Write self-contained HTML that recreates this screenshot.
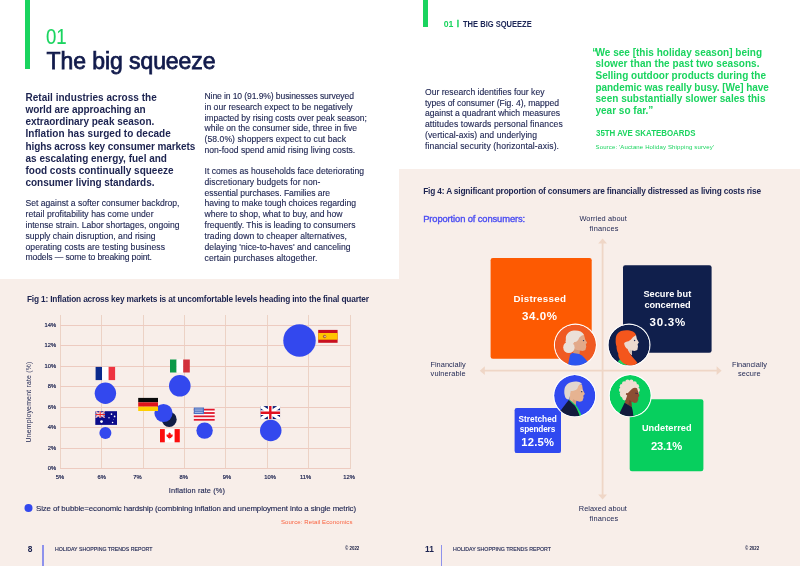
<!DOCTYPE html><html lang="en"><head><meta charset="utf-8"><title>Holiday Shopping Trends Report</title><style>
html,body{margin:0;padding:0}
body{width:800px;height:566px;position:relative;overflow:hidden;background:#f8eee9;font-family:"Liberation Sans",sans-serif}
.w{position:absolute;background:#fff}
.t{position:absolute;white-space:nowrap;line-height:12px;height:12px}
.g{position:absolute}
svg{position:absolute;left:0;top:0}
</style></head><body>
<div class="w" style="left:0;top:0;width:399px;height:278.5px"></div>
<div class="w" style="left:399px;top:0;width:401px;height:168.5px"></div>
<div class="g" style="left:25.2px;top:0;width:4.6px;height:68.6px;background:#1ad45f"></div>
<div class="g" style="left:423.2px;top:0;width:4.8px;height:27px;background:#1ad45f"></div>
<svg width="800" height="566" viewBox="0 0 800 566"><g stroke="#ecd2c5" stroke-width="1" fill="none"><line x1="60.5" y1="315" x2="60.5" y2="469"/><line x1="101.5" y1="315" x2="101.5" y2="469"/><line x1="143.5" y1="315" x2="143.5" y2="469"/><line x1="184.5" y1="315" x2="184.5" y2="469"/><line x1="225.5" y1="315" x2="225.5" y2="469"/><line x1="267.5" y1="315" x2="267.5" y2="469"/><line x1="308.5" y1="315" x2="308.5" y2="469"/><line x1="350.5" y1="315" x2="350.5" y2="469"/></g><g stroke="#edcbc0" stroke-width="1" fill="none"><line x1="60" y1="325.5" x2="350.5" y2="325.5"/><line x1="60" y1="345.5" x2="350.5" y2="345.5"/><line x1="60" y1="366.5" x2="350.5" y2="366.5"/><line x1="60" y1="386.5" x2="350.5" y2="386.5"/><line x1="60" y1="407.5" x2="350.5" y2="407.5"/><line x1="60" y1="427.5" x2="350.5" y2="427.5"/><line x1="60" y1="448.5" x2="350.5" y2="448.5"/><line x1="60" y1="468.5" x2="350.5" y2="468.5"/></g><circle cx="169.2" cy="419.4" r="7.5" fill="#111c44"/><circle cx="105.4" cy="393.2" r="10.7" fill="#3348ee"/><circle cx="179.8" cy="385.8" r="10.8" fill="#3348ee"/><circle cx="163.5" cy="413" r="9.1" fill="#3348ee"/><circle cx="105.4" cy="433" r="6" fill="#3348ee"/><circle cx="204.6" cy="430.6" r="8.2" fill="#3348ee"/><circle cx="270.75" cy="430.5" r="10.75" fill="#3348ee"/><circle cx="299.5" cy="340.5" r="16.25" fill="#3348ee"/><circle cx="28.5" cy="508" r="4" fill="#3348ee"/><g transform="translate(95.6,366.9)"><rect width="6.5" height="13.2" fill="#0b2a8c"/><rect x="6.5" width="6.5" height="13.2" fill="#fff"/><rect x="13" width="6.5" height="13.2" fill="#ee3340"/></g><g transform="translate(170,359.5)"><rect width="6.6" height="13" fill="#0c9a4a"/><rect x="6.6" width="6.6" height="13" fill="#fff"/><rect x="13.2" width="6.6" height="13" fill="#d2323c"/></g><g transform="translate(138.2,397.9)"><rect width="19.8" height="4.4" fill="#0a0a0a"/><rect y="4.4" width="19.8" height="4.4" fill="#e0141c"/><rect y="8.8" width="19.8" height="4.3" fill="#ffcf00"/></g><g transform="translate(95.3,411.2)"><rect width="21.7" height="13.7" fill="#0c0c8a"/><clipPath id="au"><rect width="9.700" height="6.600"/></clipPath><g clip-path="url(#au)"><path d="M0 0L9.700 6.600M9.700 0L0 6.600" stroke="#fff" stroke-width="1.500"/><path d="M0 0L9.700 6.600M9.700 0L0 6.600" stroke="#ee3a3a" stroke-width="0.600"/><path d="M4.850 0V6.600M0 3.300H9.700" stroke="#fff" stroke-width="2.200"/><path d="M4.850 0V6.600M0 3.300H9.700" stroke="#ee2a2a" stroke-width="1.200"/></g><g fill="#fff"><circle cx="6.200" cy="10.400" r="1.350"/><circle cx="16.200" cy="2.900" r="0.850"/><circle cx="19.300" cy="5.200" r="0.850"/><circle cx="17.300" cy="11.300" r="0.800"/><circle cx="13.700" cy="6.600" r="0.800" fill="#c9c9ee"/><circle cx="18.100" cy="8.300" r="0.400" fill="#9a9adf"/></g></g><g transform="translate(160,429.1)"><rect width="19.8" height="13.2" fill="#fff"/><rect width="4.800" height="13.2" fill="#fb0d0d"/><rect x="14.600" width="5.200" height="13.2" fill="#fb0d0d"/><path transform="translate(9.6,6.2) scale(0.72) translate(-9.9,-6.5)" d="M9.9 2.2l1 1.9 1-.5-.5 2.6 1.3-1.2.3.8 1.5-.3-.6 1.7.7.4-2.6 2.1.3 1-2.1-.3v1.8h-.6v-1.8l-2.1.3.3-1-2.6-2.1.7-.4-.6-1.7 1.5.3.3-.8 1.300 1.200-.5-2.600 1 .5z" fill="#fb0d0d"/></g><g transform="translate(193.8,407.5)"><rect width="20.9" height="13.5" fill="#fff"/><rect y="1.2" width="20.9" height="1.800" fill="#e0182c"/><rect y="4.6" width="20.9" height="1.800" fill="#e0182c"/><rect y="7.95" width="20.9" height="1.800" fill="#e0182c"/><rect y="11.4" width="20.9" height="1.800" fill="#e0182c"/><rect width="10.200" height="6.600" fill="#4a6fc0"/><g fill="#c4d0ee"><rect x="1" y="1.200" width="8" height="0.700"/><rect x="1" y="3" width="8" height="0.700"/><rect x="1" y="4.800" width="8" height="0.700"/></g></g><g transform="translate(260.4,406.1)"><clipPath id="uk"><rect width="19.8" height="13.2"/></clipPath><g clip-path="url(#uk)"><rect width="19.8" height="13.2" fill="#0b1c74"/><path d="M0 0L19.8 13.2M19.8 0L0 13.2" stroke="#fff" stroke-width="3.4"/><path d="M9.9 0V13.2M0 6.600H19.8" stroke="#fff" stroke-width="4.800"/><path d="M9.9 0V13.2M0 6.600H19.8" stroke="#e0101f" stroke-width="2.400"/></g></g><g transform="translate(318.2,329.9)"><rect width="19.4" height="12.9" fill="#c90f1e"/><rect y="3.100" width="19.4" height="6.700" fill="#ffc400"/><circle cx="6.400" cy="6.600" r="1.700" fill="#b0622f"/><circle cx="6.800" cy="6.600" r="0.700" fill="#f1e6e6"/></g><g stroke="#efd6c6" stroke-width="1.8" fill="none"><line x1="602.6" y1="241" x2="602.6" y2="497"/><line x1="482.5" y1="370.7" x2="719" y2="370.7"/></g><g fill="#efd6c6"><path d="M602.6 238.4l4.400 5h-8.800z"/><path d="M602.6 499.5l4.400-5h-8.800z"/><path d="M479.8 370.7l5-4.400v8.800z"/><path d="M721.6 370.7l-5-4.400v8.800z"/></g><rect x="490.6" y="258" width="101.1" height="100.8" rx="2.2" fill="#fd5a02"/><rect x="623" y="265.2" width="88.6" height="87.6" rx="2.2" fill="#101f4c"/><rect x="514.6" y="408.1" width="46.4" height="45" rx="2.2" fill="#3049f0"/><rect x="629.7" y="399.3" width="73.7" height="72" rx="2.2" fill="#07cf5e"/><g transform="translate(575.4,345)"><circle r="21.5" fill="#fff"/><clipPath id="av1"><circle r="20.6"/></clipPath><g clip-path="url(#av1)"><circle r="20.6" fill="#f05a22"/><path d="M8.6-10.3L9.5-6.8 10-5 11.7-2.4 10.4-.6 10.9 1.6 10 5.100 7.300 6 4.200 5.600 3.800 9.100-1.900 8.600-1.500 1.600-1.900-2.800 2-8z" fill="#e2a98a"/><path d="M4.200 5.600L3.800 9.100-1.900 8.600-1.700 4 1 4.800z" fill="#d2977a"/><path d="M-1.900-2.800C-6-2-9.800-3-9.600-6.500-9.800-10.500-6-14.300-1.500-14.400 3-14.800 7.200-13.300 8.600-10.300 6.500-9.500 4.500-8.500 3.800-7.200 3.200-5.500 2-3.900.8-3.200z" fill="#ebe0d8"/><circle cx="-6.500" cy="2.400" r="5.700" fill="#ebe0d8"/><ellipse cx="-5.500" cy="-3.800" rx="4.300" ry="4.500" fill="#ebe0d8"/><circle cx="8.100" cy="-4.400" r="0.700" fill="#27305a"/><path d="M-7.600 21L-5.500 10.400C-4.800 8.600-3.600 7.900-2.400 7.900L3.800 9.100C7 10.500 9.500 13.500 11.700 16.200L13 21z" fill="#2b55f0"/></g></g><g transform="translate(629,345)"><circle r="21.5" fill="#fff"/><clipPath id="av2"><circle r="20.6"/></clipPath><g clip-path="url(#av2)"><circle r="20.6" fill="#101f4c"/><path d="M-11.100 16.500L-8.900 13.900-2.300 20-5.800 21.500z" fill="#1ed760"/><path d="M7-10L7.900-6 9.900-2.500 8.600-.7 9 1.500 8.300 5 5.600 5.900 3 5.500 3 10.300-3 6-6.500 0-5-5 2-9z" fill="#ecdacf"/><path d="M3 5.500L3 10.300.5 7.500.8 4.500z" fill="#cfc0b8"/><path d="M-13.300-4.700C-13.500-9-11.600-12.500-8-14-4.100-15.300.5-15 3.900-13.500 5.500-12.600 6.500-11.500 7-10 5.800-9 4.800-8.300 3.900-7.800 2.500-6 1-4.500-.5-3.800-2.500-3.500-4.200-3-4.900-1.600-4.500 1-3 3-1.400 4.100-.5 6.500.8 8.500 2.100 10.300 4 13 7 15.500 8.300 17.800L6 20.500 2.100 21-3.200 19.600C-6 18-8.500 16-9.400 13.900-10.500 12-10.900 10.300-10.700 8.600-12 6-12.600 3.500-12.400 1.500-13.200-.5-13.500-2.700-13.300-4.700z" fill="#f4561c"/><circle cx="5.600" cy="-4.500" r="0.700" fill="#27305a"/></g></g><g transform="translate(574.7,395.7)"><circle r="21.5" fill="#fff"/><clipPath id="av3"><circle r="20.6"/></clipPath><g clip-path="url(#av3)"><circle r="20.6" fill="#3049f0"/><path d="M7.300-11.300L8.200-5.600 10.200-1.800 8.600.1 8.900 1.900 7.700 5.400 5.100 6.100 1.500 5 1.100 9.400-5.500 4.100-4.600-4.300 1-11z" fill="#e6b391"/><path d="M1.500 5L1.100 9.400-2.500 6.500-1.500 3.500z" fill="#d49d7d"/><path d="M-10.400-2.500C-10.600-6-10-8.500-9-9.600-7.500-12-5.800-13-3.800-13.500-1.500-14.300 1-14.400 3.300-14 5-13.600 6.500-12.800 7.300-11.800L5-11C3.800-10.500 3.200-9 2.900-7.500L1.500-6C0-5-2-4.800-3.800-4.700-4.500-3-4.700-1.500-4.600.1L-6 3.700C-8 3.500-9.500 2.500-10-.5z" fill="#e2d7cf"/><path d="M6 -6.300L8.300-5.700 8.100-4.900 6-5.300z" fill="#e2d7cf"/><circle cx="7" cy="-4" r="0.650" fill="#27305a"/><path d="M-5.300 3.800L1.100 9.400C3.500 12.500 5.200 15.500 6.600 19L7 22 3 22-0.200 10.300-6 4.400z" fill="#1ed760"/><path d="M-15 16L-6 4.400.2 10C2.200 13 3.600 16.500 4.600 19.100L5 22-15 22z" fill="#131b3d"/></g></g><g transform="translate(630.2,395.7)"><circle r="21.5" fill="#fff"/><clipPath id="av4"><circle r="20.6"/></clipPath><g clip-path="url(#av4)"><circle r="20.6" fill="#07cf5e"/><g fill="#f0ddd2"><circle cx="-0.800" cy="-5.800" r="8.800"/><circle cx="7.50" cy="-5.80" r="2.200"/><circle cx="6.68" cy="-2.20" r="2.200"/><circle cx="4.37" cy="0.69" r="2.200"/><circle cx="1.05" cy="2.29" r="2.200"/><circle cx="-2.65" cy="2.29" r="2.200"/><circle cx="-5.97" cy="0.69" r="2.200"/><circle cx="-8.28" cy="-2.20" r="2.200"/><circle cx="-9.10" cy="-5.80" r="2.200"/><circle cx="-8.28" cy="-9.40" r="2.200"/><circle cx="-5.97" cy="-12.29" r="2.200"/><circle cx="-2.65" cy="-13.89" r="2.200"/><circle cx="1.05" cy="-13.89" r="2.200"/><circle cx="4.37" cy="-12.29" r="2.200"/><circle cx="6.68" cy="-9.40" r="2.200"/><circle cx="-5.500" cy="2.300" r="2.400"/><circle cx="-7.500" cy="-0.500" r="2.400"/></g><path d="M1.900-6.900C3.500-8.200 5.500-8.300 6.800-7.400L8.100-3.400 9.200.1 7.900 1.900 8.100 3.700 6.800 6.800 4.100 7.200 1.100 5.900 1.500 11.200-5.600 7.200-3-0.200-4.300-1.200C-4.500-2.500-3.500-3.200-2.500-2.500z" fill="#8c4e33"/><path d="M1.100 5.900L1.500 11.200-2 9-.5 4z" fill="#74402a"/><path d="M4.800-3L7.900-2.700 7.800-1.900 5-2.200z" fill="#3a2440"/><path d="M-10.500 17L-5.600 7 1.500 11.200C2.500 14 2.800 16.500 3 19.300L3.500 22-10.500 22z" fill="#131b3d"/></g></g></svg>
<span class="t" style="left:-21.5px;top:395.8px;width:100px;text-align:center;font-size:6.9px;color:#1c2350;letter-spacing:0.2px;transform:rotate(-90deg)">Unemployement rate (%)</span>
<div class="g" style="left:42.4px;top:545px;width:1.4px;height:21px;background:#8e92ec"></div>
<div class="g" style="left:440.7px;top:545px;width:1.4px;height:21px;background:#8e92ec"></div>
<span class="t" style="top:31.00px;font-size:22px;color:#1ad45f;left:46.30px;transform:scaleX(0.8454);transform-origin:0 50%;-webkit-text-stroke:0.12px #1ad45f;">01</span>
<span class="t" style="top:55.00px;font-size:23px;color:#111a4b;left:46.50px;letter-spacing:-0.077px;-webkit-text-stroke:0.75px #111a4b;">The big squeeze</span>
<span class="t" style="top:92.00px;font-size:10px;color:#1c2350;font-weight:700;left:25.50px;letter-spacing:0.024px;">Retail industries across the</span>
<span class="t" style="top:104.00px;font-size:10px;color:#1c2350;font-weight:700;left:25.50px;letter-spacing:-0.074px;">world are approaching an</span>
<span class="t" style="top:116.00px;font-size:10px;color:#1c2350;font-weight:700;left:25.50px;letter-spacing:-0.031px;">extraordinary peak season.</span>
<span class="t" style="top:128.00px;font-size:10px;color:#1c2350;font-weight:700;left:25.50px;letter-spacing:0.027px;">Inflation has surged to decade</span>
<span class="t" style="top:141.00px;font-size:10px;color:#1c2350;font-weight:700;left:25.50px;letter-spacing:-0.098px;">highs across key consumer markets</span>
<span class="t" style="top:153.00px;font-size:10px;color:#1c2350;font-weight:700;left:25.50px;letter-spacing:-0.002px;">as escalating energy, fuel and</span>
<span class="t" style="top:165.00px;font-size:10px;color:#1c2350;font-weight:700;left:25.50px;letter-spacing:-0.012px;">food costs continually squeeze</span>
<span class="t" style="top:177.00px;font-size:10px;color:#1c2350;font-weight:700;left:25.50px;letter-spacing:-0.042px;">consumer living standards.</span>
<span class="t" style="top:197.00px;font-size:8.6px;color:#1c2350;left:25.50px;letter-spacing:-0.008px;-webkit-text-stroke:0.12px #1c2350;">Set against a softer consumer backdrop,</span>
<span class="t" style="top:208.00px;font-size:8.6px;color:#1c2350;left:25.50px;letter-spacing:0.056px;-webkit-text-stroke:0.12px #1c2350;">retail profitability has come under</span>
<span class="t" style="top:219.00px;font-size:8.6px;color:#1c2350;left:25.50px;letter-spacing:0.016px;-webkit-text-stroke:0.12px #1c2350;">intense strain. Labor shortages, ongoing</span>
<span class="t" style="top:230.00px;font-size:8.6px;color:#1c2350;left:25.50px;letter-spacing:0.016px;-webkit-text-stroke:0.12px #1c2350;">supply chain disruption, and rising</span>
<span class="t" style="top:241.00px;font-size:8.6px;color:#1c2350;left:25.50px;letter-spacing:0.068px;-webkit-text-stroke:0.12px #1c2350;">operating costs are testing business</span>
<span class="t" style="top:251.00px;font-size:8.6px;color:#1c2350;left:25.50px;letter-spacing:-0.126px;-webkit-text-stroke:0.12px #1c2350;">models — some to breaking point.</span>
<span class="t" style="top:90.00px;font-size:8.6px;color:#1c2350;left:204.50px;letter-spacing:-0.117px;-webkit-text-stroke:0.12px #1c2350;">Nine in 10 (91.9%) businesses surveyed</span>
<span class="t" style="top:101.00px;font-size:8.6px;color:#1c2350;left:204.50px;letter-spacing:0.010px;-webkit-text-stroke:0.12px #1c2350;">in our research expect to be negatively</span>
<span class="t" style="top:112.00px;font-size:8.6px;color:#1c2350;left:204.50px;letter-spacing:-0.045px;-webkit-text-stroke:0.12px #1c2350;">impacted by rising costs over peak season;</span>
<span class="t" style="top:122.00px;font-size:8.6px;color:#1c2350;left:204.50px;letter-spacing:-0.021px;-webkit-text-stroke:0.12px #1c2350;">while on the consumer side, three in five</span>
<span class="t" style="top:133.00px;font-size:8.6px;color:#1c2350;left:204.50px;letter-spacing:0.059px;-webkit-text-stroke:0.12px #1c2350;">(58.0%) shoppers expect to cut back</span>
<span class="t" style="top:144.00px;font-size:8.6px;color:#1c2350;left:204.50px;letter-spacing:0.007px;-webkit-text-stroke:0.12px #1c2350;">non-food spend amid rising living costs.</span>
<span class="t" style="top:165.00px;font-size:8.6px;color:#1c2350;left:204.50px;letter-spacing:0.011px;-webkit-text-stroke:0.12px #1c2350;">It comes as households face deteriorating</span>
<span class="t" style="top:176.00px;font-size:8.6px;color:#1c2350;left:204.50px;letter-spacing:0.079px;-webkit-text-stroke:0.12px #1c2350;">discretionary budgets for non-</span>
<span class="t" style="top:187.00px;font-size:8.6px;color:#1c2350;left:204.50px;letter-spacing:-0.063px;-webkit-text-stroke:0.12px #1c2350;">essential purchases. Families are</span>
<span class="t" style="top:197.00px;font-size:8.6px;color:#1c2350;left:204.50px;letter-spacing:-0.024px;-webkit-text-stroke:0.12px #1c2350;">having to make tough choices regarding</span>
<span class="t" style="top:208.00px;font-size:8.6px;color:#1c2350;left:204.50px;letter-spacing:-0.040px;-webkit-text-stroke:0.12px #1c2350;">where to shop, what to buy, and how</span>
<span class="t" style="top:219.00px;font-size:8.6px;color:#1c2350;left:204.50px;letter-spacing:0.009px;-webkit-text-stroke:0.12px #1c2350;">frequently. This is leading to consumers</span>
<span class="t" style="top:230.00px;font-size:8.6px;color:#1c2350;left:204.50px;letter-spacing:0.043px;-webkit-text-stroke:0.12px #1c2350;">trading down to cheaper alternatives,</span>
<span class="t" style="top:241.00px;font-size:8.6px;color:#1c2350;left:204.50px;letter-spacing:0.035px;-webkit-text-stroke:0.12px #1c2350;">delaying 'nice-to-haves' and canceling</span>
<span class="t" style="top:252.00px;font-size:8.6px;color:#1c2350;left:204.50px;letter-spacing:0.094px;-webkit-text-stroke:0.12px #1c2350;">certain purchases altogether.</span>
<span class="t" style="top:293.00px;font-size:8.3px;color:#1c2350;font-weight:700;left:26.90px;letter-spacing:-0.160px;">Fig 1: Inflation across key markets is at uncomfortable levels heading into the final quarter</span>
<span class="t" style="top:319.00px;font-size:5.8px;color:#1c2350;right:743.80px;-webkit-text-stroke:0.2px #1c2350;">14%</span>
<span class="t" style="top:339.00px;font-size:5.8px;color:#1c2350;right:743.80px;-webkit-text-stroke:0.2px #1c2350;">12%</span>
<span class="t" style="top:360.00px;font-size:5.8px;color:#1c2350;right:743.80px;-webkit-text-stroke:0.2px #1c2350;">10%</span>
<span class="t" style="top:380.00px;font-size:5.8px;color:#1c2350;right:743.80px;-webkit-text-stroke:0.2px #1c2350;">8%</span>
<span class="t" style="top:401.00px;font-size:5.8px;color:#1c2350;right:743.80px;-webkit-text-stroke:0.2px #1c2350;">6%</span>
<span class="t" style="top:421.00px;font-size:5.8px;color:#1c2350;right:743.80px;-webkit-text-stroke:0.2px #1c2350;">4%</span>
<span class="t" style="top:442.00px;font-size:5.8px;color:#1c2350;right:743.80px;-webkit-text-stroke:0.2px #1c2350;">2%</span>
<span class="t" style="top:462.00px;font-size:5.8px;color:#1c2350;right:743.80px;-webkit-text-stroke:0.2px #1c2350;">0%</span>
<span class="t" style="top:471.00px;font-size:5.8px;color:#1c2350;left:-40.00px;width:200px;text-align:center;-webkit-text-stroke:0.2px #1c2350;">5%</span>
<span class="t" style="top:471.00px;font-size:5.8px;color:#1c2350;left:1.75px;width:200px;text-align:center;-webkit-text-stroke:0.2px #1c2350;">6%</span>
<span class="t" style="top:471.00px;font-size:5.8px;color:#1c2350;left:37.50px;width:200px;text-align:center;-webkit-text-stroke:0.2px #1c2350;">7%</span>
<span class="t" style="top:471.00px;font-size:5.8px;color:#1c2350;left:83.75px;width:200px;text-align:center;-webkit-text-stroke:0.2px #1c2350;">8%</span>
<span class="t" style="top:471.00px;font-size:5.8px;color:#1c2350;left:127.00px;width:200px;text-align:center;-webkit-text-stroke:0.2px #1c2350;">9%</span>
<span class="t" style="top:471.00px;font-size:5.8px;color:#1c2350;left:170.00px;width:200px;text-align:center;-webkit-text-stroke:0.2px #1c2350;">10%</span>
<span class="t" style="top:471.00px;font-size:5.8px;color:#1c2350;left:205.60px;width:200px;text-align:center;-webkit-text-stroke:0.2px #1c2350;">11%</span>
<span class="t" style="top:471.00px;font-size:5.8px;color:#1c2350;left:249.00px;width:200px;text-align:center;-webkit-text-stroke:0.2px #1c2350;">12%</span>
<span class="t" style="top:485.00px;font-size:7.4px;color:#1c2350;left:168.75px;letter-spacing:0.119px;-webkit-text-stroke:0.12px #1c2350;">Inflation rate (%)</span>
<span class="t" style="top:503.00px;font-size:7.9px;color:#1c2350;left:36.00px;letter-spacing:-0.120px;-webkit-text-stroke:0.12px #1c2350;">Size of bubble=economic hardship (combining inflation and unemployment into a single metric)</span>
<span class="t" style="top:516.00px;font-size:6px;color:#fa5f3c;left:281.00px;letter-spacing:0.117px;">Source: Retail Economics</span>
<span class="t" style="top:543.00px;font-size:8.4px;color:#1c2350;font-weight:700;left:-70.00px;width:200px;text-align:center;">8</span>
<span class="t" style="top:543.00px;font-size:6px;color:#1c2350;left:54.50px;transform:scaleX(0.8711);transform-origin:0 50%;-webkit-text-stroke:0.15px #1c2350;">HOLIDAY SHOPPING TRENDS REPORT</span>
<span class="t" style="top:542.00px;font-size:5px;color:#161b40;font-weight:700;left:345.30px;transform:scaleX(0.8825);transform-origin:0 50%;">© 2022</span>
<span class="t" style="top:18.00px;font-size:8.7px;color:#1ad45f;font-weight:700;left:443.75px;letter-spacing:-0.122px;">01</span>
<span class="t" style="top:17.00px;font-size:6.4px;color:#1ad45f;font-weight:700;left:358.00px;width:200px;text-align:center;-webkit-text-stroke:0.5px #1ad45f;">|</span>
<span class="t" style="top:18.00px;font-size:8.7px;color:#1b2556;font-weight:700;left:463.00px;transform:scaleX(0.8684);transform-origin:0 50%;">THE BIG SQUEEZE</span>
<span class="t" style="top:86.00px;font-size:8.6px;color:#1c2350;left:425.00px;letter-spacing:0.003px;-webkit-text-stroke:0.12px #1c2350;">Our research identifies four key</span>
<span class="t" style="top:97.00px;font-size:8.6px;color:#1c2350;left:425.00px;letter-spacing:-0.050px;-webkit-text-stroke:0.12px #1c2350;">types of consumer (Fig. 4), mapped</span>
<span class="t" style="top:107.00px;font-size:8.6px;color:#1c2350;left:425.00px;letter-spacing:-0.021px;-webkit-text-stroke:0.12px #1c2350;">against a quadrant which measures</span>
<span class="t" style="top:118.00px;font-size:8.6px;color:#1c2350;left:425.00px;letter-spacing:0.089px;-webkit-text-stroke:0.12px #1c2350;">attitudes towards personal finances</span>
<span class="t" style="top:129.00px;font-size:8.6px;color:#1c2350;left:425.00px;letter-spacing:0.074px;-webkit-text-stroke:0.12px #1c2350;">(vertical-axis) and underlying</span>
<span class="t" style="top:140.00px;font-size:8.6px;color:#1c2350;left:425.00px;letter-spacing:0.127px;-webkit-text-stroke:0.12px #1c2350;">financial security (horizontal-axis).</span>
<span class="t" style="top:47.00px;font-size:10px;color:#1ad45f;font-weight:700;left:592.30px;">“</span>
<span class="t" style="top:47.00px;font-size:10px;color:#1ad45f;font-weight:700;left:595.50px;letter-spacing:0.016px;">We see [this holiday season] being</span>
<span class="t" style="top:58.00px;font-size:10px;color:#1ad45f;font-weight:700;left:595.50px;letter-spacing:0.054px;">slower than the past two seasons.</span>
<span class="t" style="top:70.00px;font-size:10px;color:#1ad45f;font-weight:700;left:595.50px;letter-spacing:-0.001px;">Selling outdoor products during the</span>
<span class="t" style="top:82.00px;font-size:10px;color:#1ad45f;font-weight:700;left:595.50px;letter-spacing:-0.059px;">pandemic was really busy. [We] have</span>
<span class="t" style="top:93.00px;font-size:10px;color:#1ad45f;font-weight:700;left:595.50px;letter-spacing:0.013px;">seen substantially slower sales this</span>
<span class="t" style="top:105.00px;font-size:10px;color:#1ad45f;font-weight:700;left:595.50px;">year so far.”</span>
<span class="t" style="top:127.00px;font-size:8.6px;color:#1ad45f;font-weight:700;left:595.50px;transform:scaleX(0.9193);transform-origin:0 50%;">35TH AVE SKATEBOARDS</span>
<span class="t" style="top:141.00px;font-size:6px;color:#1ad45f;left:595.50px;letter-spacing:0.145px;">Source: 'Auctane Holiday Shipping survey'</span>
<span class="t" style="top:185.00px;font-size:8.3px;color:#1c2350;font-weight:700;left:423.20px;letter-spacing:-0.162px;">Fig 4: A significant proportion of consumers are financially distressed as living costs rise</span>
<span class="t" style="top:213.00px;font-size:9.4px;color:#4a4cf2;left:423.20px;letter-spacing:-0.120px;-webkit-text-stroke:0.35px #4a4cf2;">Proportion of consumers:</span>
<span class="t" style="top:213.00px;font-size:7.4px;color:#1c2350;left:579.40px;letter-spacing:0.100px; ">Worried about</span>
<span class="t" style="top:223.00px;font-size:7.4px;color:#1c2350;left:589.60px;letter-spacing:0.181px; ">finances</span>
<span class="t" style="top:503.00px;font-size:7.4px;color:#1c2350;left:578.75px;letter-spacing:0.040px; ">Relaxed about</span>
<span class="t" style="top:513.00px;font-size:7.4px;color:#1c2350;left:589.40px;letter-spacing:0.196px; ">finances</span>
<span class="t" style="top:359.00px;font-size:7.4px;color:#1c2350;left:430.40px;letter-spacing:0.028px; ">Financially</span>
<span class="t" style="top:368.00px;font-size:7.4px;color:#1c2350;left:430.60px;letter-spacing:0.099px; ">vulnerable</span>
<span class="t" style="top:359.00px;font-size:7.4px;color:#1c2350;left:731.90px;letter-spacing:0.008px; ">Financially</span>
<span class="t" style="top:368.00px;font-size:7.4px;color:#1c2350;left:737.90px;letter-spacing:0.103px; ">secure</span>
<span class="t" style="top:293.00px;font-size:9.8px;color:#ffffff;font-weight:700;left:513.50px;letter-spacing:0.255px; ">Distressed</span>
<span class="t" style="top:310.00px;font-size:11.5px;color:#ffffff;font-weight:700;left:521.90px;letter-spacing:0.648px; ">34.0%</span>
<span class="t" style="top:288.00px;font-size:9.2px;color:#ffffff;font-weight:700;left:643.40px;letter-spacing:0.041px; ">Secure but</span>
<span class="t" style="top:299.00px;font-size:9.2px;color:#ffffff;font-weight:700;left:644.40px;letter-spacing:-0.034px; ">concerned</span>
<span class="t" style="top:316.00px;font-size:11.5px;color:#ffffff;font-weight:700;left:649.60px;letter-spacing:0.760px; ">30.3%</span>
<span class="t" style="top:413.00px;font-size:8.3px;color:#ffffff;font-weight:700;left:518.50px;letter-spacing:0.015px; ">Stretched</span>
<span class="t" style="top:423.00px;font-size:8.3px;color:#ffffff;font-weight:700;left:519.75px;letter-spacing:-0.199px; ">spenders</span>
<span class="t" style="top:436.00px;font-size:11.2px;color:#ffffff;font-weight:700;left:521.25px;letter-spacing:0.254px; ">12.5%</span>
<span class="t" style="top:422.00px;font-size:9.2px;color:#ffffff;font-weight:700;left:641.90px;letter-spacing:0.076px; ">Undeterred</span>
<span class="t" style="top:440.00px;font-size:11.2px;color:#ffffff;font-weight:700;left:650.90px;letter-spacing:-0.134px; ">23.1%</span>
<span class="t" style="top:543.00px;font-size:8.4px;color:#1c2350;font-weight:700;left:329.50px;width:200px;text-align:center;">11</span>
<span class="t" style="top:543.00px;font-size:6px;color:#1c2350;left:452.75px;transform:scaleX(0.8756);transform-origin:0 50%;-webkit-text-stroke:0.15px #1c2350;">HOLIDAY SHOPPING TRENDS REPORT</span>
<span class="t" style="top:542.00px;font-size:5px;color:#161b40;font-weight:700;left:744.75px;transform:scaleX(0.8733);transform-origin:0 50%;">© 2022</span>
</body></html>
